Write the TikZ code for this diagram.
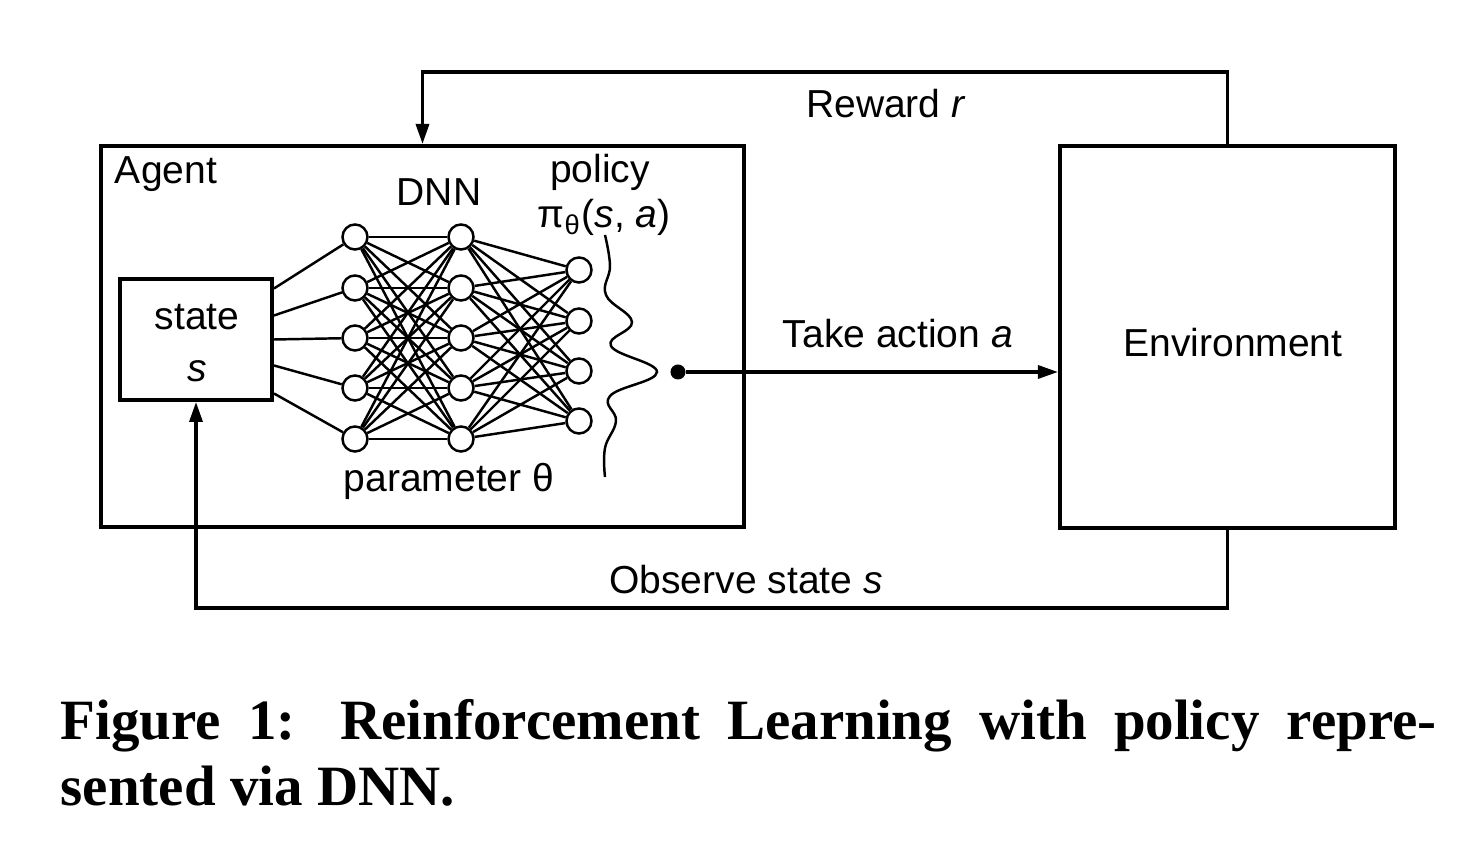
\documentclass[tikz,border=0pt]{standalone}
\usepackage{fontspec}
\setmainfont{Liberation Sans}
\newfontfamily\capfont{Liberation Serif}
\usetikzlibrary{arrows.meta,positioning,calc}

\begin{document}
\begin{tikzpicture}[
  x=0.01cm, y=-0.01cm,
  every node/.style={font=\fontsize{11.1}{14.8}\selectfont},
  box/.style={draw, line width=1.1pt, inner sep=0pt, align=center},
  neuron/.style={draw, circle, fill=white, line width=0.7pt, minimum size=0.25cm, inner sep=0pt},
  link/.style={line width=0.7pt},
  dot/.style={circle, fill, minimum size=0.15cm, inner sep=0pt},
  lbl/.style={anchor=base, inner sep=0pt},
  arr/.style={-{Triangle[length=0.2cm, width=0.13cm]}, line width=0.95pt}
]
\useasboundingbox (0,0) rectangle (1468,852);

% boxes
\node[box, minimum width=6.43cm, minimum height=3.81cm] (agent) at (422.5,336.5) {};
\node[box, minimum width=3.35cm, minimum height=3.82cm] (env) at (1227.5,337) {};
\node[box, minimum width=1.52cm, minimum height=1.21cm] (state) at (196,339.5) {};

% labels
\node[lbl] (envlbl) at (1233,357) {Environment};
\node[lbl] (statelbl) at (197,330) {state};
\node[lbl] (svar) at (197,382) {\textit{s}};
\node[lbl] (agentlbl) at (166,184) {Agent};
\node[lbl] (dnn) at (439,206) {DNN};
\node[lbl] (policy) at (600,183) {policy};
\node[lbl] (pi) at (604,228) {π\textsubscript{θ}(\textit{s}, \textit{a})};
\node[lbl] (param) at (449,492) {parameter θ};

% network
\foreach \i/\d in {1/-51,2/-24,3/0,4/26,5/54}
  \coordinate (in\i) at ($(state.east)+(0,\d)$);
\foreach \i/\y in {1/237,2/288,3/338,4/388,5/439} {
  \node[neuron] (h\i) at (355,\y) {};
  \node[neuron] (g\i) at (461,\y) {};
}
\foreach \i/\y in {1/270,2/321,3/371,4/421}
  \node[neuron] (o\i) at (579,\y) {};
\foreach \i in {1,...,5} {
  \draw[link] (in\i) -- (h\i);
  \foreach \j in {1,...,5}
    \draw[link] (h\i) -- (g\j);
  \foreach \j in {1,...,4}
    \draw[link] (g\i) -- (o\j);
}

% action distribution
\draw[link] plot[smooth, tension=0.7] coordinates {(605,235) (610,266) (606,295) (632,322) (611,346) (657,372) (610,396) (616,421) (605,448) (605,477)};
\node[dot] (act) at (678,372) {};

% loop
\coordinate (rtop) at (0,72);
\coordinate (obot) at (0,608);
\draw[arr] (act) -- (act -| env.west);
\draw[arr] (env.north) -- (env.north |- rtop) -- (agent.north |- rtop) -- (agent.north);
\draw[arr] (env.south) -- (env.south |- obot) -- (state.south |- obot) -- (state.south);
\node[lbl] (take) at (898,348) {Take action \textit{a}};
\node[lbl] (reward) at (886,118) {Reward \textit{r}};
\node[lbl] (observe) at (746,594) {Observe state \textit{s}};

% caption
\node[anchor=north west, inner sep=0pt, text width=13.75cm, align=justify,
  font=\capfont\bfseries\fontsize{16.2}{18.8}\selectfont] (caption) at (60,699)
  {\noindent Figure 1: Reinforcement Learning with policy repre-\linebreak sented via DNN.};
\end{tikzpicture}
\end{document}
